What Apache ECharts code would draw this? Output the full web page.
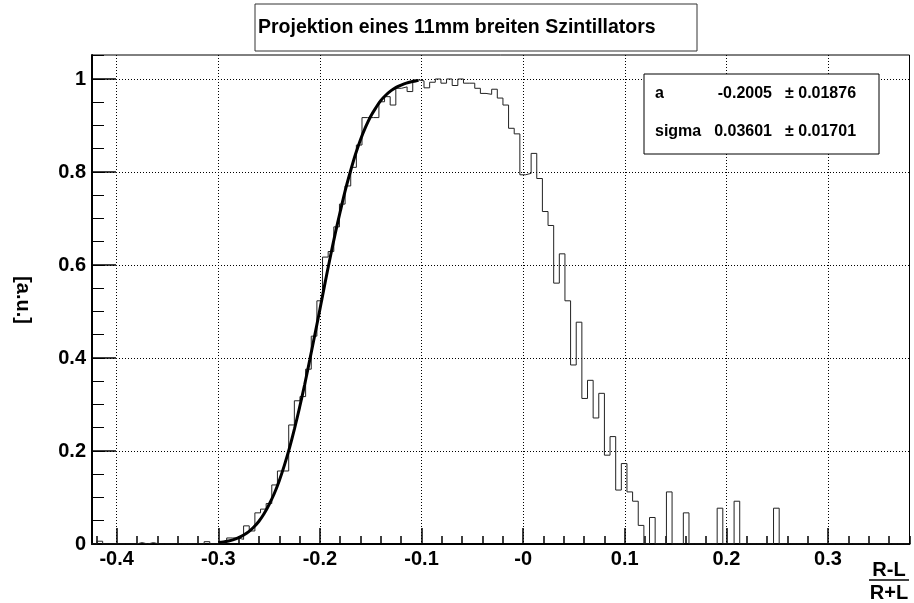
<!DOCTYPE html>
<html>
<head>
<meta charset="utf-8">
<title>Projektion eines 11mm breiten Szintillators</title>
<script src="https://cdn.jsdelivr.net/npm/echarts@6/dist/echarts.min.js"></script>
<style>
  html, body { margin: 0; padding: 0; background: #fff; }
  #chart { width: 914px; height: 603px; }
</style>
</head>
<body>
<div id="chart"></div>
<script>
// Achsenbereich
var xMin = -0.4243
var xMax = 0.3802
var yMax = 1.0516

// Binning des Histogramms (145 Bins)
var binLow = -0.4249
var binWidth = 0.005548
var counts = [
  0, 0.006, 0, 0, 0, 0, 0, 0, 0.003, 0,
  0.003, 0, 0, 0, 0, 0, 0, 0, 0, 0,
  0.005, 0, 0, 0.003, 0.013, 0.013, 0.010, 0.039, 0.028, 0.067,
  0.075, 0.087, 0.127, 0.157, 0.157, 0.256, 0.308, 0.317, 0.376, 0.447,
  0.523, 0.617, 0.629, 0.682, 0.731, 0.770, 0.810, 0.858, 0.917, 0.917,
  0.917, 0.951, 0.962, 0.944, 0.980, 0.983, 0.973, 0.998, 0.996, 0.981,
  0.993, 1.000, 0.991, 1.000, 0.986, 1.000, 0.991, 0.991, 0.980, 0.969,
  0.967, 0.978, 0.959, 0.944, 0.894, 0.882, 0.794, 0.797, 0.840, 0.786,
  0.715, 0.685, 0.561, 0.624, 0.523, 0.385, 0.477, 0.313, 0.352, 0.271,
  0.324, 0.191, 0.231, 0.116, 0.173, 0.112, 0.092, 0.040, 0, 0.057,
  0, 0, 0.112, 0, 0, 0.067, 0, 0, 0, 0,
  0, 0.077, 0, 0, 0.092, 0, 0, 0, 0, 0,
  0, 0.077, 0, 0, 0, 0, 0, 0, 0, 0,
  0, 0, 0, 0, 0, 0, 0, 0, 0, 0,
  0, 0, 0, 0, 0
]

// Fitkurve
var fitX = [
  -0.300, -0.295, -0.290, -0.285, -0.280, -0.275, -0.270, -0.265, -0.260, -0.255,
  -0.250, -0.245, -0.240, -0.235, -0.230, -0.225, -0.220, -0.215, -0.210, -0.205,
  -0.200, -0.195, -0.190, -0.185, -0.180, -0.175, -0.170, -0.165, -0.160, -0.155,
  -0.150, -0.145, -0.140, -0.135, -0.130, -0.125, -0.120, -0.115, -0.110, -0.105,
  -0.103
]
var fitY = [
  0.003, 0.0043, 0.0065, 0.0095, 0.0136, 0.0193, 0.0267, 0.0366, 0.049, 0.065,
  0.085, 0.108, 0.136, 0.169, 0.206, 0.248, 0.294, 0.343, 0.396, 0.450,
  0.505, 0.561, 0.615, 0.667, 0.715, 0.761, 0.801, 0.838, 0.870, 0.897,
  0.920, 0.938, 0.954, 0.9656, 0.975, 0.982, 0.987, 0.9912, 0.994, 0.996,
  0.997
]

// Achsenbeschriftung
var xMajor = [-0.4, -0.3, -0.2, -0.1, 0, 0.1, 0.2, 0.3]
var yMajor = [0, 0.2, 0.4, 0.6, 0.8, 1]
var fitPars = [
  ['a', '-0.2005', '0.01876'],
  ['sigma', '0.03601', '0.01701']
]

var FONT = '"Liberation Sans", Arial, Helvetica, sans-serif'

// kleine Ticks
var xMinor = []
for (var i = -21; i <= 19; i++) xMinor.push(+(i * 0.02).toFixed(2))
var yMinor = []
for (var j = 0; j <= 21; j++) yMinor.push(+(j * 0.05).toFixed(2))

var histData = []
for (var k = 0; k < counts.length; k++) {
  histData.push([binLow + k * binWidth, counts[k]])
}
histData.push([binLow + counts.length * binWidth, counts[counts.length - 1]])

var fitData = fitX.map(function (x, n) { return [x, fitY[n]] })

function txt(x, y, s, size, align, extra) {
  var el = {
    type: 'text', x: x, y: y, z: 101,
    style: {
      text: s, fill: '#000',
      font: 'bold ' + size + 'px ' + FONT,
      fontSize: size, fontWeight: 'bold', fontFamily: FONT,
      align: align, textAlign: align,
      verticalAlign: 'middle', textVerticalAlign: 'middle'
    }
  }
  if (extra) Object.assign(el, extra)
  return el
}

var graphics = [
  // Titelbox
  { type: 'rect', z: 100, shape: { x: 255, y: 4, width: 442, height: 47 },
    style: { fill: '#fff', stroke: '#333', lineWidth: 1 } },
  txt(258, 28, 'Projektion eines 11mm breiten Szintillators', 19.5, 'left'),
  // Statistikbox
  { type: 'rect', z: 100, shape: { x: 644, y: 74, width: 235, height: 80 },
    style: { fill: '#fff', stroke: '#000', lineWidth: 1 } },
  // Achsentitel
  txt(23, 300, '[a.u.]', 20, 'center', { rotation: -Math.PI / 2 }),
  txt(889, 570, 'R-L', 20, 'center'),
  { type: 'line', z: 101, shape: { x1: 869, y1: 580, x2: 909, y2: 580 },
    style: { stroke: '#000', lineWidth: 1.5 } },
  txt(889, 593, 'R+L', 20, 'center')
]
fitPars.forEach(function (p, r) {
  var y = 93.5 + r * 38
  graphics.push(txt(655, y, p[0], 16, 'left'))
  graphics.push(txt(772, y, p[1], 16, 'right'))
  graphics.push(txt(785, y, '\u00b1 ' + p[2], 16, 'left'))
})

var chart = echarts.init(document.getElementById('chart'))
chart.setOption({
  animation: false,
  backgroundColor: '#fff',
  grid: {
    left: 92, right: 4.5, top: 55, bottom: 59,
    show: true, borderColor: '#000', borderWidth: 1
  },
  xAxis: [
    {
      type: 'value', min: xMin, max: xMax, splitNumber: 8,
      axisLine: { show: true, onZero: false, lineStyle: { color: '#000', width: 2 } },
      axisTick: { show: true, inside: true, length: 16, customValues: xMajor,
        lineStyle: { color: '#000', width: 1.5 } },
      axisLabel: {
        customValues: xMajor, margin: 5, color: '#000',
        fontSize: 20, fontWeight: 'bold', fontFamily: FONT,
        formatter: function (v) { return v === 0 ? '-0' : String(+v.toFixed(1)) }
      },
      splitLine: { show: true, lineStyle: { color: '#000', width: 1, type: [1, 2] } }
    },
    {
      type: 'value', min: xMin, max: xMax, position: 'bottom',
      axisLine: { show: false, onZero: false },
      axisTick: { show: true, inside: true, length: 8, customValues: xMinor,
        lineStyle: { color: '#000', width: 1.5 } },
      axisLabel: { show: false },
      splitLine: { show: false }
    }
  ],
  yAxis: [
    {
      type: 'value', min: 0, max: yMax, interval: 0.2,
      axisLine: { show: true, onZero: false, lineStyle: { color: '#000', width: 2 } },
      axisTick: { show: true, inside: true, length: 24, customValues: yMajor,
        lineStyle: { color: '#000', width: 1.5 } },
      axisLabel: {
        customValues: yMajor, margin: 6, color: '#000',
        fontSize: 20, fontWeight: 'bold', fontFamily: FONT,
        formatter: function (v) { return String(+v.toFixed(1)) }
      },
      splitLine: { show: true, lineStyle: { color: '#000', width: 1, type: [1, 2] } }
    },
    {
      type: 'value', min: 0, max: yMax, position: 'left',
      axisLine: { show: false, onZero: false },
      axisTick: { show: true, inside: true, length: 12, customValues: yMinor,
        lineStyle: { color: '#000', width: 1 } },
      axisLabel: { show: false },
      splitLine: { show: false }
    }
  ],
  series: [
    {
      name: 'Projektion', type: 'line', step: 'end',
      xAxisIndex: 0, yAxisIndex: 0,
      showSymbol: false, symbol: 'none',
      lineStyle: { color: '#222', width: 1 },
      data: histData, z: 3
    },
    {
      name: 'Fit', type: 'line', smooth: 0.3,
      xAxisIndex: 0, yAxisIndex: 0,
      showSymbol: false, symbol: 'none',
      lineStyle: { color: '#000', width: 3 },
      data: fitData, z: 4
    }
  ],
  graphic: graphics
})
</script>
</body>
</html>
